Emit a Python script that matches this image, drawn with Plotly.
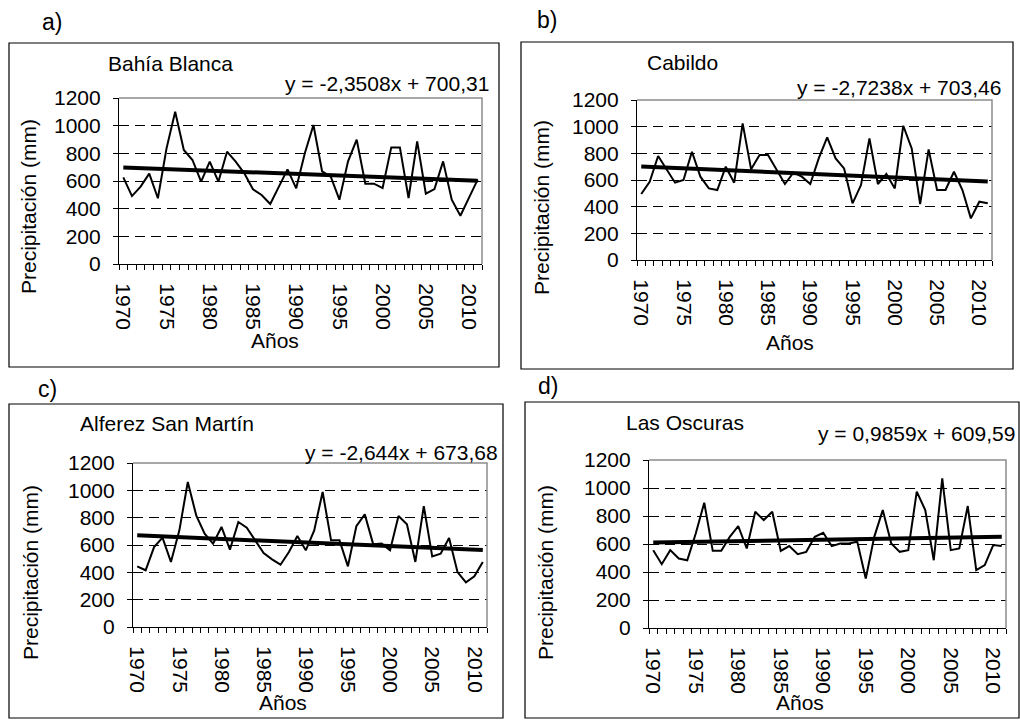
import plotly.graph_objects as go

# ---------------- data ----------------
years = list(range(1970, 2012))
tick_years = [1970, 1975, 1980, 1985, 1990, 1995, 2000, 2005, 2010]

bahia_blanca = [626, 491, 559, 653, 475, 836, 1101, 824, 752, 595, 740, 595, 812, 740, 655,
                540, 499, 434, 559, 684, 547, 800, 1005, 670, 631, 465, 742, 899, 581, 581,
                549, 843, 843, 477, 887, 508, 542, 742, 465, 349, 480, 610]
cabildo = [495, 587, 780, 675, 580, 600, 812, 625, 537, 525, 700, 580, 1025, 680, 787,
           787, 675, 570, 655, 625, 570, 762, 920, 762, 687, 425, 562, 912, 570, 645,
           537, 1007, 837, 420, 830, 525, 525, 662, 525, 312, 437, 425]
alferez_san_martin = [444, 415, 585, 654, 476, 707, 1061, 817, 683, 610, 732, 566, 768, 727, 634,
                      541, 495, 456, 549, 666, 561, 707, 988, 634, 634, 444, 737, 824, 605, 610,
                      561, 812, 751, 476, 885, 517, 537, 651, 402, 327, 371, 476]
las_oscuras = [556, 456, 556, 496, 484, 675, 895, 551, 551, 651, 728, 568, 830, 771, 830,
               551, 585, 527, 544, 651, 680, 585, 604, 604, 616, 353, 651, 842, 604, 544,
               556, 974, 842, 484, 1069, 556, 568, 871, 413, 449, 592, 585]

stations = ["Bahía Blanca", "Cabildo", "Alferez San Martín", "Las Oscuras"]
panel_tags = ["a)", "b)", "c)", "d)"]
slopes = [-2.3508, -2.7238, -2.644, 0.9859]
intercepts = [700.31, 703.46, 673.68, 609.59]
equations = ["y = -2,3508x + 700,31", "y = -2,7238x + 703,46",
             "y = -2,644x + 673,68", "y = 0,9859x + 609,59"]
series = [bahia_blanca, cabildo, alferez_san_martin, las_oscuras]

y_title = "Precipitación (mm)"
x_title = "Años"

# ---------------- layout geometry (pixels) ----------------
W, H = 1020, 720
FONT = "Liberation Sans, Arial, sans-serif"
FS = 21

# plot area: left, top, right, bottom
plot_boxes = [(119, 98, 482, 264), (637, 100, 992, 260),
              (133, 463, 487, 627), (649, 460, 1006, 628)]
# outer frame: left, top, right, bottom
frames = [(9, 43, 499, 367), (521, 42, 1013, 369),
          (9, 404, 503, 718), (525, 402, 1019, 718)]
tag_pos = [(52, 22), (547, 20), (47, 389), (548, 386)]
title_pos = [(106, 63), (645, 62), (78, 423), (624, 422)]          # left, middle
eq_pos = [(491, 83), (1003, 87), (500, 452), (1017, 433)]           # right, middle
ytitle_pos = [(29, 207), (542, 208), (30, 573), (545, 573)]
xtitle_pos = [(275, 340), (790, 342), (283, 702), (800, 702)]


def px(x):
    return x / W


def py(y):
    return 1 - y / H


fig = go.Figure()
shapes = []
annotations = []

for i in range(4):
    xa = "x" if i == 0 else f"x{i+1}"
    ya = "y" if i == 0 else f"y{i+1}"
    vals = series[i]
    trend = [slopes[i] * (k + 1) + intercepts[i] for k in range(len(years))]

    fig.add_trace(go.Scatter(x=years, y=vals, mode="lines", xaxis=xa, yaxis=ya,
                             line=dict(color="black", width=2), showlegend=False,
                             hoverinfo="skip"))
    fig.add_trace(go.Scatter(x=years, y=trend, mode="lines", xaxis=xa, yaxis=ya,
                             line=dict(color="black", width=4), showlegend=False,
                             hoverinfo="skip"))

    l, t, r, b = plot_boxes[i]
    xkey = "xaxis" if i == 0 else f"xaxis{i+1}"
    ykey = "yaxis" if i == 0 else f"yaxis{i+1}"
    fig.update_layout(**{
        xkey: dict(domain=[px(l), px(r)], anchor=ya, range=[1969.5, 2011.5],
                   tickmode="array", tickvals=tick_years,
                   ticktext=[str(v) for v in tick_years], tickangle=90,
                   ticks="", ticklabelstandoff=14,
                   minor=dict(tickmode="linear", tick0=1969.5, dtick=1, ticks="outside",
                              ticklen=5, tickcolor="black", tickwidth=1, showgrid=False),
                   showgrid=False, zeroline=False, showline=True, linecolor="black",
                   linewidth=1.2, automargin=False,
                   tickfont=dict(family=FONT, size=FS, color="black"), fixedrange=True),
        ykey: dict(domain=[py(b), py(t)], anchor=xa, range=[0, 1200],
                   tickmode="linear", tick0=0, dtick=200, ticks="outside", ticklen=5,
                   tickcolor="black", ticklabelstandoff=8,
                   showgrid=True, gridcolor="black", griddash="10px,6px", gridwidth=1,
                   zeroline=False, showline=True, linecolor="black", linewidth=1.2,
                   automargin=False,
                   tickfont=dict(family=FONT, size=FS, color="black"), fixedrange=True),
    })

    # gray plot-area border (top & right)
    shapes.append(dict(type="path", xref=f"{xa} domain", yref=f"{ya} domain",
                       path="M 0,1 L 1,1 L 1,0", line=dict(color="#8c8c8c", width=1.5),
                       layer="above"))
    # outer frame
    fl, ft, fr, fb = frames[i]
    shapes.append(dict(type="rect", xref="paper", yref="paper",
                       x0=px(fl), x1=px(fr), y0=py(fb), y1=py(ft),
                       line=dict(color="black", width=1.2), layer="below"))

    annotations += [
        dict(text=panel_tags[i], x=px(tag_pos[i][0]), y=py(tag_pos[i][1]),
             xref="paper", yref="paper", xanchor="center", yanchor="middle",
             showarrow=False, font=dict(family=FONT, size=23, color="black")),
        dict(text=stations[i], x=px(title_pos[i][0]), y=py(title_pos[i][1]),
             xref="paper", yref="paper", xanchor="left", yanchor="middle",
             showarrow=False, font=dict(family=FONT, size=FS, color="black")),
        dict(text=equations[i], x=px(eq_pos[i][0]), y=py(eq_pos[i][1]),
             xref="paper", yref="paper", xanchor="right", yanchor="middle",
             showarrow=False, font=dict(family=FONT, size=FS, color="black")),
        dict(text=y_title, x=px(ytitle_pos[i][0]), y=py(ytitle_pos[i][1]),
             xref="paper", yref="paper", xanchor="center", yanchor="middle",
             textangle=-90, showarrow=False,
             font=dict(family=FONT, size=FS, color="black")),
        dict(text=x_title, x=px(xtitle_pos[i][0]), y=py(xtitle_pos[i][1]),
             xref="paper", yref="paper", xanchor="center", yanchor="middle",
             showarrow=False, font=dict(family=FONT, size=FS, color="black")),
    ]

fig.update_layout(width=W, height=H, margin=dict(l=0, r=0, t=0, b=0),
                  template="none", paper_bgcolor="white", plot_bgcolor="white",
                  shapes=shapes, annotations=annotations, showlegend=False,
                  font=dict(family=FONT, size=FS, color="black"))

fig.write_html("out.html", config={"displayModeBar": False})
